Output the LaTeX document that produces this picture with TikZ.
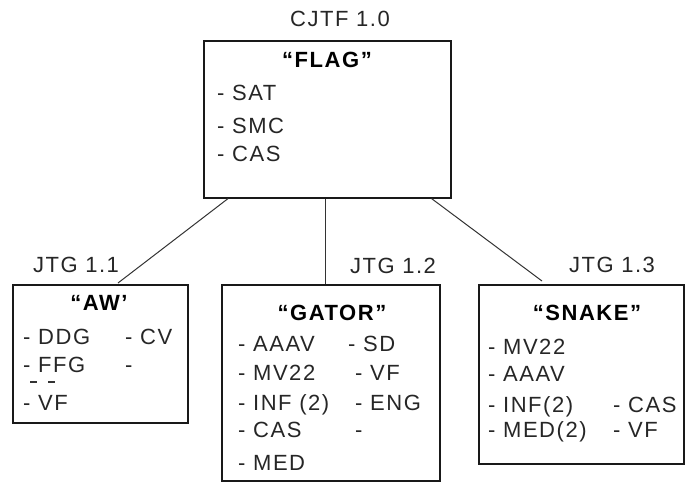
\documentclass[tikz,border=0pt]{standalone}
\usepackage{fontspec}
\setmainfont{Liberation Sans}[LetterSpace=7]
\usetikzlibrary{positioning,calc}

\begin{document}
\begin{tikzpicture}[
    x=1pt, y=-1pt,
    unit_box/.style={draw=black!90, line width=1.6pt, anchor=north west, inner sep=0pt},
    unit_title/.style={font=\fontsize{22}{26}\selectfont\bfseries, anchor=base, inner sep=0pt},
    unit_lbl/.style={font=\fontsize{22}{26}\selectfont, anchor=base, inner sep=0pt, text=black!85},
    item_lbl/.style={font=\fontsize{22}{26}\selectfont, anchor=base west, inner sep=0pt, text=black!85},
    link/.style={line width=1pt, draw=black!80}
]
    \useasboundingbox (0,0) rectangle (687,492);

    % Unit boxes
    \node[unit_box, minimum width=247pt, minimum height=157pt] (flag) at (203,40) {};
    \node[unit_box, minimum width=175pt, minimum height=138pt] (aw) at (12,284) {};
    \node[unit_box, minimum width=218pt, minimum height=196pt] (gator) at (221,284) {};
    \node[unit_box, minimum width=205pt, minimum height=179pt] (snake) at (478,284) {};

    % Unit labels
    \node[unit_lbl] (flag_lbl) at (340,27) {CJTF 1.0};
    \node[unit_lbl] (aw_lbl) at (76,272) {JTG 1.1};
    \node[unit_lbl] (gator_lbl) at (393,273) {JTG 1.2};
    \node[unit_lbl] (snake_lbl) at (612,272) {JTG 1.3};

    % Titles
    \node[unit_title] (flag_t) at (327,68) {“FLAG”};
    \node[unit_title] (aw_t) at (99,310) {“AW’};
    \node[unit_title] (gator_t) at (332,320) {“GATOR”};
    \node[unit_title] (snake_t) at (587,320) {“SNAKE”};

    % Assets
    \foreach \yy/\txt [count=\i] in {101/SAT, 133/SMC, 161/CAS}
        \node[item_lbl] (flag_a\i) at (217,\yy) {- \txt};

    \foreach \yy/\txt [count=\i] in {344/DDG, 372/FFG, 410/VF}
        \node[item_lbl] (aw_a\i) at (23,\yy) {- \txt};
    \node[item_lbl] (aw_b1) at (125,344) {- CV};
    \node[item_lbl] (aw_b2) at (125,372) {-};
    % stray marks above VF
    \draw[line width=1.5pt, black!80] (30,382) -- (37,382) (48,382) -- (55,382);

    \foreach \yy/\txt [count=\i] in {351/AAAV, 380/MV22, 410/INF (2), 437/CAS, 470/MED}
        \node[item_lbl] (gator_a\i) at (238,\yy) {- \txt};
    \node[item_lbl] (gator_b1) at (348,351) {- SD};
    \foreach \yy/\txt [count=\i from 2] in {380/VF, 410/ENG}
        \node[item_lbl] (gator_b\i) at (355,\yy) {- \txt};
    \node[item_lbl] (gator_b4) at (355,437) {-};

    \foreach \yy/\txt [count=\i] in {354/MV22, 381/AAAV, 412/INF(2), 437/MED(2)}
        \node[item_lbl] (snake_a\i) at (488,\yy) {- \txt};
    \foreach \yy/\txt [count=\i] in {412/CAS, 437/VF}
        \node[item_lbl] (snake_b\i) at (613,\yy) {- \txt};

    % Command links
    \draw[link] ($(flag.south west)+(25,0)$) -- ($(aw.north west)+(106,-1)$);
    \draw[link] ($(flag.south)+(-2,0)$) coordinate (mid) -- (mid |- gator.north);
    \draw[link] ($(flag.south east)+(-20,0)$) -- ($(snake.north west)+(64,-3)$);
\end{tikzpicture}
\end{document}
